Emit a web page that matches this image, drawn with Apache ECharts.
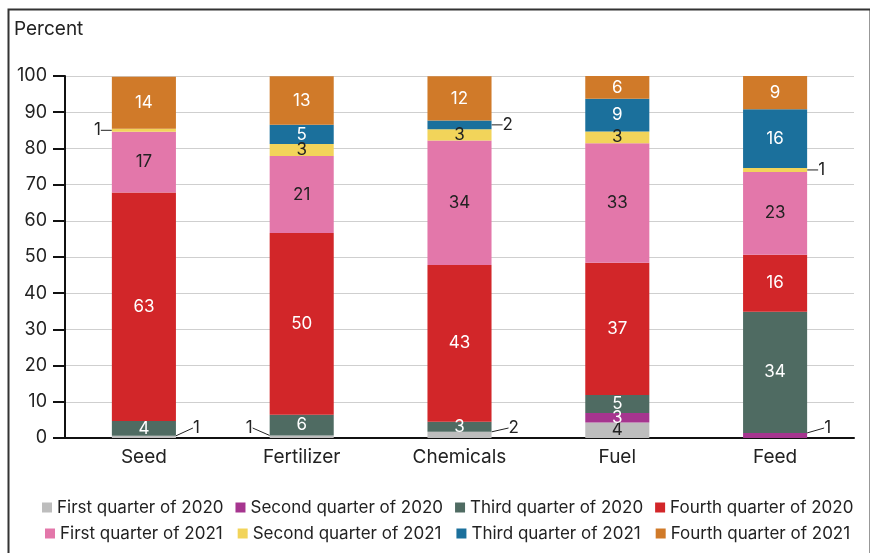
<!DOCTYPE html>
<html>
<head>
<meta charset="utf-8">
<script src="https://cdn.jsdelivr.net/npm/echarts@6/dist/echarts.min.js"></script>
<style>
  html, body { margin: 0; padding: 0; background: #fff; }
  #chart { width: 870px; height: 553px; }
</style>
</head>
<body>
<div id="chart"></div>
<script>
const categories = ['Seed', 'Fertilizer', 'Chemicals', 'Fuel', 'Feed']

const seriesNames = [
  'First quarter of 2020', 'Second quarter of 2020', 'Third quarter of 2020', 'Fourth quarter of 2020',
  'First quarter of 2021', 'Second quarter of 2021', 'Third quarter of 2021', 'Fourth quarter of 2021',
]

// percent of respondents, per category (Seed, Fertilizer, Chemicals, Fuel, Feed)
const q1_2020 = [0.6, 0.7, 1.7, 4.3, 0]
const q2_2020 = [0, 0, 0, 2.6, 1.4]
const q3_2020 = [4.1, 5.7, 2.8, 5.0, 33.5]
const q4_2020 = [63.1, 50.2, 43.3, 36.5, 15.7]
const q1_2021 = [16.8, 21.3, 34.4, 33.0, 22.9]
const q2_2021 = [0.8, 3.3, 3.1, 3.3, 1.1]
const q3_2021 = [0, 5.3, 2.4, 9.0, 16.2]
const q4_2021 = [14.4, 13.4, 12.2, 6.3, 9.2]

const yTicks = [0, 10, 20, 30, 40, 50, 60, 70, 80, 90, 100]

const allValues = [q1_2020, q2_2020, q3_2020, q4_2020, q1_2021, q2_2021, q3_2021, q4_2021]
const COLORS = ['#bdbdbd', '#a6358f', '#4f6b62', '#d22629', '#e377aa', '#f2d45a', '#1b709c', '#d07a29']
const DARK_TEXT = [true, false, false, false, true, true, false, false]
const SMALL = 2.5
// small labels that sit on the left of their bar: "series-category"
const LEFT_LABELS = { '5-0': true, '0-1': true }
const FONT = 'Inter, "Noto Sans", sans-serif'

const chart = echarts.init(document.getElementById('chart'))

function stackBelow(si, di) {
  let s = 0
  for (let k = 0; k < si; k++) s += allValues[k][di]
  return s
}

const legendStyle = {
  orient: 'horizontal',
  width: 850,
  icon: 'rect',
  itemWidth: 10,
  itemHeight: 10,
  textStyle: { fontFamily: FONT, fontSize: 17, color: '#222' },
}

const series = allValues.map((vals, si) => ({
  name: seriesNames[si],
  type: 'bar',
  stack: 'total',
  barWidth: '40.6%',
  itemStyle: { color: COLORS[si] },
  label: {
    show: true,
    position: 'inside',
    fontFamily: FONT,
    fontSize: 17,
    color: DARK_TEXT[si] ? '#222' : '#fff',
    formatter: (p) => (p.value > 0 ? String(Math.round(p.value)) : ''),
  },
  labelLine: { show: false, lineStyle: { color: '#222', width: 1 } },
  labelLayout: (p) => {
    const v = allValues[p.seriesIndex][p.dataIndex]
    if (!(v > 0 && v < SMALL)) return {}
    const r = p.rect
    const left = LEFT_LABELS[p.seriesIndex + '-' + p.dataIndex]
    const diagonal = stackBelow(p.seriesIndex, p.dataIndex) === 0
    const off = diagonal ? 15 : 9
    return {
      x: left ? r.x - off : r.x + r.width + off,
      y: diagonal ? r.y + r.height - 10 : r.y + r.height / 2,
      align: left ? 'right' : 'left',
      verticalAlign: 'middle',
    }
  },
  data: vals.map((v) => {
    const small = v > 0 && v < SMALL
    return {
      value: v,
      label: small ? { color: '#222', padding: [0, 2] } : {},
      labelLine: { show: small },
    }
  }),
}))

chart.setOption({
  animation: false,
  textStyle: { fontFamily: FONT },
  title: {
    text: 'Percent',
    left: 9,
    top: 15,
    textStyle: { fontFamily: FONT, fontSize: 19, fontWeight: 'normal', color: '#222' },
  },
  grid: { left: 65, right: 16, top: 76, bottom: 115 },
  legend: [
    Object.assign({ data: seriesNames.slice(0, 4), left: 37, top: 494, itemGap: 12 }, legendStyle),
    Object.assign({ data: seriesNames.slice(4), left: 40, top: 520, itemGap: 15 }, legendStyle),
  ],
  xAxis: {
    type: 'category',
    data: categories,
    axisLine: { lineStyle: { color: '#111', width: 2 } },
    axisTick: { show: false },
    axisLabel: { fontFamily: FONT, fontSize: 19, color: '#222', margin: 10 },
  },
  yAxis: {
    type: 'value',
    min: yTicks[0],
    max: yTicks[yTicks.length - 1],
    interval: yTicks[1] - yTicks[0],
    axisLine: { show: true, lineStyle: { color: '#111', width: 2 } },
    axisTick: { show: true, length: 12, lineStyle: { color: '#111', width: 2 } },
    axisLabel: { fontFamily: FONT, fontSize: 18, color: '#222', margin: 18 },
    splitLine: { lineStyle: { color: '#cfcfcf', width: 1 } },
  },
  graphic: [{
    type: 'rect',
    left: 6,
    top: 7,
    shape: { width: 862, height: 560 },
    style: { fill: 'none', stroke: '#333', lineWidth: 2 },
    silent: true,
  }],
  series,
})
</script>
</body>
</html>
